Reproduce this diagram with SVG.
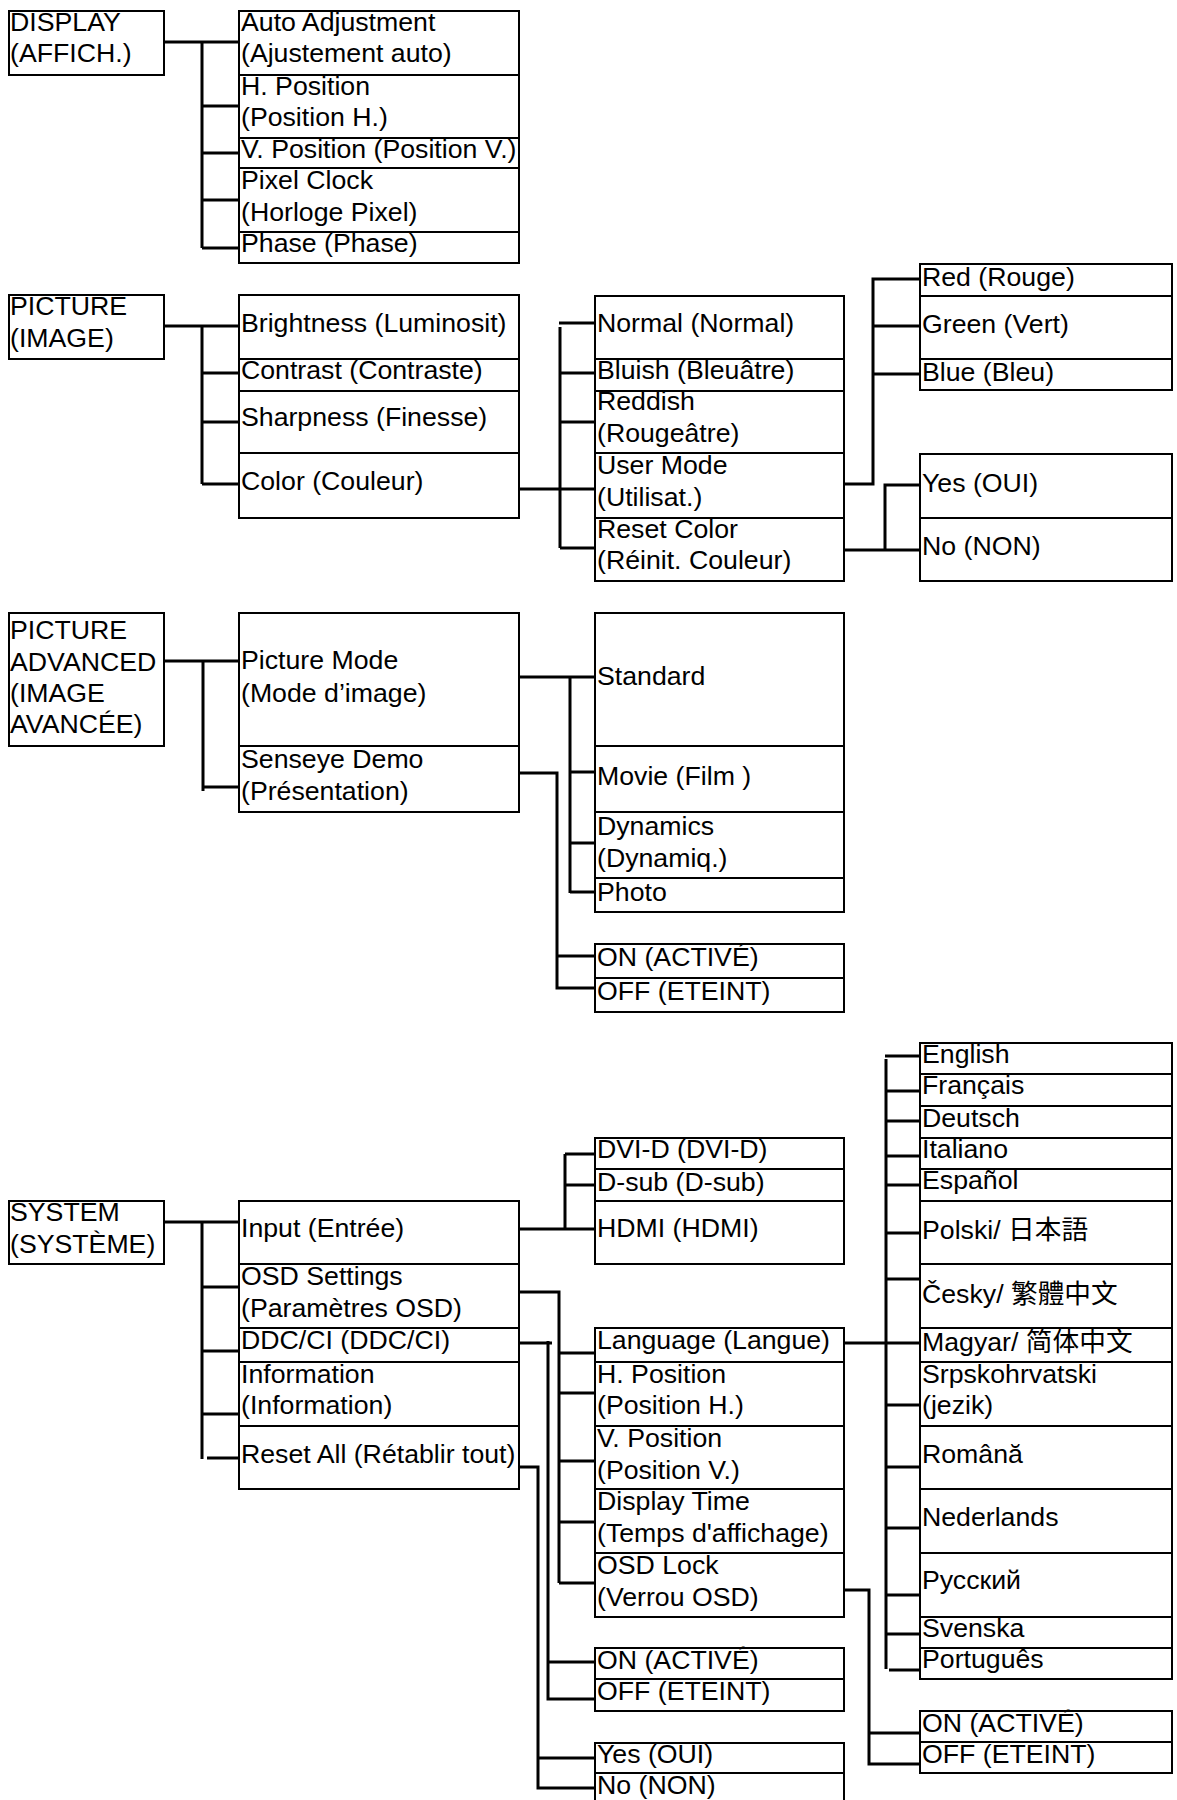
<svg xmlns="http://www.w3.org/2000/svg" width="1177" height="1800" viewBox="0 0 1177 1800">
<style>
.b{fill:#fff;stroke:#000;stroke-width:2}
.t{font-family:"Liberation Sans",Arial,"Noto Sans CJK JP",sans-serif;font-size:26.7px;fill:#000}
.c{fill:none;stroke:#000;stroke-width:3}
</style>
<rect width="1177" height="1800" fill="#fff"/>
<g id="connectors" class="c">
<path d="M164,42H239M202,42V248M202,106H239M202,153H239M202,200H239M202,248H239"/>
<path d="M164,326H239M202,326V484M202,373H239M202,422H239M202,484H239"/>
<path d="M519,489H595M559,323H595M560,327V548M560,373H595M560,422H595M560,548H595"/>
<path d="M844,484H873V279H920M873,326H920M873,374H920"/>
<path d="M844,550H920M885,550V485H920"/>
<path d="M164,661H239M203,661V791M203,787H239"/>
<path d="M519,677H595M570,677V893M570,772H595M570,843H595M570,892H595"/>
<path d="M519,773H557V988H595M557,956H595"/>
<path d="M164,1222H239M202,1222V1459M202,1287H239M202,1351H239M202,1414H239M207,1458H239"/>
<path d="M519,1229H595M565,1154V1229M565,1154H595M565,1185H595"/>
<path d="M519,1292H559V1583M559,1353H595M559,1393H595M559,1461H595M559,1522H595M559,1583H595"/>
<path d="M519,1343H552M548,1341V1699H595M548,1662H595"/>
<path d="M519,1467H538V1788H595M538,1758H595"/>
<path d="M844,1343H920M886,1059V1669M885,1056H920M886,1091H920M886,1121H920M886,1156H920M886,1185H920M886,1233H920M886,1279H920M886,1405H920M886,1467H920M886,1528H920M886,1595H920M886,1634H920M889,1670H920"/>
<path d="M844,1590H869V1764H920M869,1733H920"/>
</g>
<g id="display"><rect class="b" x="9" y="11" width="155" height="64"/><text class="t" x="10" y="31">DISPLAY</text><text class="t" x="10" y="62">(AFFICH.)</text></g>
<g id="auto-adjustment"><rect class="b" x="239" y="11" width="280" height="64"/><text class="t" x="241" y="31">Auto Adjustment</text><text class="t" x="241" y="62">(Ajustement auto)</text></g>
<g id="d-hpos"><rect class="b" x="239" y="75" width="280" height="63"/><text class="t" x="241" y="95">H. Position</text><text class="t" x="241" y="126">(Position H.)</text></g>
<g id="d-vpos"><rect class="b" x="239" y="138" width="280" height="30"/><text class="t" x="241" y="158">V. Position (Position V.)</text></g>
<g id="pixel-clock"><rect class="b" x="239" y="168" width="280" height="64"/><text class="t" x="241" y="189">Pixel Clock</text><text class="t" x="241" y="221">(Horloge Pixel)</text></g>
<g id="phase"><rect class="b" x="239" y="232" width="280" height="31"/><text class="t" x="241" y="252">Phase (Phase)</text></g>

<g id="picture"><rect class="b" x="9" y="295" width="155" height="64"/><text class="t" x="10" y="315">PICTURE</text><text class="t" x="10" y="347">(IMAGE)</text></g>
<g id="brightness"><rect class="b" x="239" y="295" width="280" height="64"/><text class="t" x="241" y="332">Brightness (Luminosit)</text></g>
<g id="contrast"><rect class="b" x="239" y="359" width="280" height="32"/><text class="t" x="241" y="379">Contrast (Contraste)</text></g>
<g id="sharpness"><rect class="b" x="239" y="391" width="280" height="62"/><text class="t" x="241" y="426">Sharpness (Finesse)</text></g>
<g id="color"><rect class="b" x="239" y="453" width="280" height="65"/><text class="t" x="241" y="490">Color (Couleur)</text></g>
<g id="normal"><rect class="b" x="595" y="296" width="249" height="63"/><text class="t" x="597" y="332">Normal (Normal)</text></g>
<g id="bluish"><rect class="b" x="595" y="359" width="249" height="32"/><text class="t" x="597" y="379">Bluish (Bleuâtre)</text></g>
<g id="reddish"><rect class="b" x="595" y="391" width="249" height="62"/><text class="t" x="597" y="410">Reddish</text><text class="t" x="597" y="442">(Rougeâtre)</text></g>
<g id="user-mode"><rect class="b" x="595" y="453" width="249" height="65"/><text class="t" x="597" y="474">User Mode</text><text class="t" x="597" y="506">(Utilisat.)</text></g>
<g id="reset-color"><rect class="b" x="595" y="518" width="249" height="63"/><text class="t" x="597" y="538">Reset Color</text><text class="t" x="597" y="569">(Réinit. Couleur)</text></g>
<g id="red"><rect class="b" x="920" y="264" width="252" height="32"/><text class="t" x="922" y="286">Red (Rouge)</text></g>
<g id="green"><rect class="b" x="920" y="296" width="252" height="63"/><text class="t" x="922" y="333">Green (Vert)</text></g>
<g id="blue"><rect class="b" x="920" y="359" width="252" height="31"/><text class="t" x="922" y="381">Blue (Bleu)</text></g>
<g id="rc-yes"><rect class="b" x="920" y="454" width="252" height="64"/><text class="t" x="922" y="492">Yes (OUI)</text></g>
<g id="rc-no"><rect class="b" x="920" y="518" width="252" height="63"/><text class="t" x="922" y="555">No (NON)</text></g>

<g id="picture-advanced"><rect class="b" x="9" y="613" width="155" height="133"/><text class="t" x="10" y="639">PICTURE</text><text class="t" x="10" y="671">ADVANCED</text><text class="t" x="10" y="702">(IMAGE</text><text class="t" x="10" y="733">AVANCÉE)</text></g>
<g id="picture-mode"><rect class="b" x="239" y="613" width="280" height="133"/><text class="t" x="241" y="669">Picture Mode</text><text class="t" x="241" y="702">(Mode d’image)</text></g>
<g id="senseye"><rect class="b" x="239" y="746" width="280" height="66"/><text class="t" x="241" y="768">Senseye Demo</text><text class="t" x="241" y="800">(Présentation)</text></g>
<g id="standard"><rect class="b" x="595" y="613" width="249" height="133"/><text class="t" x="597" y="685">Standard</text></g>
<g id="movie"><rect class="b" x="595" y="746" width="249" height="66"/><text class="t" x="597" y="785">Movie (Film )</text></g>
<g id="dynamics"><rect class="b" x="595" y="812" width="249" height="66"/><text class="t" x="597" y="835">Dynamics</text><text class="t" x="597" y="867">(Dynamiq.)</text></g>
<g id="photo"><rect class="b" x="595" y="878" width="249" height="34"/><text class="t" x="597" y="901">Photo</text></g>
<g id="se-on"><rect class="b" x="595" y="944" width="249" height="34"/><text class="t" x="597" y="966">ON (ACTIVÉ)</text></g>
<g id="se-off"><rect class="b" x="595" y="978" width="249" height="34"/><text class="t" x="597" y="1000">OFF (ETEINT)</text></g>

<g id="system"><rect class="b" x="9" y="1201" width="155" height="63"/><text class="t" x="10" y="1221">SYSTEM</text><text class="t" x="10" y="1253">(SYSTÈME)</text></g>
<g id="input"><rect class="b" x="239" y="1201" width="280" height="63"/><text class="t" x="241" y="1237">Input (Entrée)</text></g>
<g id="osd-settings"><rect class="b" x="239" y="1264" width="280" height="64"/><text class="t" x="241" y="1285">OSD Settings</text><text class="t" x="241" y="1317">(Paramètres OSD)</text></g>
<g id="ddcci"><rect class="b" x="239" y="1328" width="280" height="34"/><text class="t" x="241" y="1349">DDC/CI (DDC/CI)</text></g>
<g id="information"><rect class="b" x="239" y="1362" width="280" height="64"/><text class="t" x="241" y="1383">Information</text><text class="t" x="241" y="1414">(Information)</text></g>
<g id="reset-all"><rect class="b" x="239" y="1426" width="280" height="63"/><text class="t" x="241" y="1463">Reset All (Rétablir tout)</text></g>
<g id="dvi-d"><rect class="b" x="595" y="1138" width="249" height="31"/><text class="t" x="597" y="1158">DVI-D (DVI-D)</text></g>
<g id="d-sub"><rect class="b" x="595" y="1169" width="249" height="32"/><text class="t" x="597" y="1191">D-sub (D-sub)</text></g>
<g id="hdmi"><rect class="b" x="595" y="1201" width="249" height="63"/><text class="t" x="597" y="1237">HDMI (HDMI)</text></g>
<g id="language"><rect class="b" x="595" y="1328" width="249" height="34"/><text class="t" x="597" y="1349">Language (Langue)</text></g>
<g id="o-hpos"><rect class="b" x="595" y="1362" width="249" height="64"/><text class="t" x="597" y="1383">H. Position</text><text class="t" x="597" y="1414">(Position H.)</text></g>
<g id="o-vpos"><rect class="b" x="595" y="1426" width="249" height="63"/><text class="t" x="597" y="1447">V. Position</text><text class="t" x="597" y="1479">(Position V.)</text></g>
<g id="display-time"><rect class="b" x="595" y="1489" width="249" height="64"/><text class="t" x="597" y="1510">Display Time</text><text class="t" x="597" y="1542">(Temps d'affichage)</text></g>
<g id="osd-lock"><rect class="b" x="595" y="1553" width="249" height="64"/><text class="t" x="597" y="1574">OSD Lock</text><text class="t" x="597" y="1606">(Verrou OSD)</text></g>
<g id="ddc-on"><rect class="b" x="595" y="1648" width="249" height="31"/><text class="t" x="597" y="1669">ON (ACTIVÉ)</text></g>
<g id="ddc-off"><rect class="b" x="595" y="1679" width="249" height="32"/><text class="t" x="597" y="1700">OFF (ETEINT)</text></g>
<g id="ra-yes"><rect class="b" x="595" y="1743" width="249" height="30"/><text class="t" x="597" y="1763">Yes (OUI)</text></g>
<g id="ra-no"><rect class="b" x="595" y="1773" width="249" height="32"/><text class="t" x="597" y="1794">No (NON)</text></g>
<g id="english"><rect class="b" x="920" y="1043" width="252" height="31"/><text class="t" x="922" y="1063">English</text></g>
<g id="francais"><rect class="b" x="920" y="1074" width="252" height="32"/><text class="t" x="922" y="1094">Français</text></g>
<g id="deutsch"><rect class="b" x="920" y="1106" width="252" height="32"/><text class="t" x="922" y="1127">Deutsch</text></g>
<g id="italiano"><rect class="b" x="920" y="1138" width="252" height="31"/><text class="t" x="922" y="1158">Italiano</text></g>
<g id="espanol"><rect class="b" x="920" y="1169" width="252" height="32"/><text class="t" x="922" y="1189">Español</text></g>
<g id="polski"><rect class="b" x="920" y="1201" width="252" height="63"/><text class="t" x="922" y="1239">Polski/ <tspan font-family="Noto Sans CJK JP">日本語</tspan></text></g>
<g id="cesky"><rect class="b" x="920" y="1264" width="252" height="64"/><text class="t" x="922" y="1303">Česky/ <tspan font-family="Noto Sans CJK TC">繁體中文</tspan></text></g>
<g id="magyar"><rect class="b" x="920" y="1328" width="252" height="34"/><text class="t" x="922" y="1351">Magyar/ <tspan font-family="Noto Sans CJK SC">简体中文</tspan></text></g>
<g id="srpsko"><rect class="b" x="920" y="1362" width="252" height="64"/><text class="t" x="922" y="1383">Srpskohrvatski</text><text class="t" x="922" y="1414">(jezik)</text></g>
<g id="romana"><rect class="b" x="920" y="1426" width="252" height="63"/><text class="t" x="922" y="1463">Română</text></g>
<g id="nederlands"><rect class="b" x="920" y="1489" width="252" height="64"/><text class="t" x="922" y="1526">Nederlands</text></g>
<g id="russkiy"><rect class="b" x="920" y="1553" width="252" height="64"/><text class="t" x="922" y="1589">Русский</text></g>
<g id="svenska"><rect class="b" x="920" y="1617" width="252" height="31"/><text class="t" x="922" y="1637">Svenska</text></g>
<g id="portugues"><rect class="b" x="920" y="1648" width="252" height="31"/><text class="t" x="922" y="1668">Português</text></g>
<g id="lock-on"><rect class="b" x="920" y="1711" width="252" height="31"/><text class="t" x="922" y="1732">ON (ACTIVÉ)</text></g>
<g id="lock-off"><rect class="b" x="920" y="1742" width="252" height="31"/><text class="t" x="922" y="1763">OFF (ETEINT)</text></g>
</svg>
